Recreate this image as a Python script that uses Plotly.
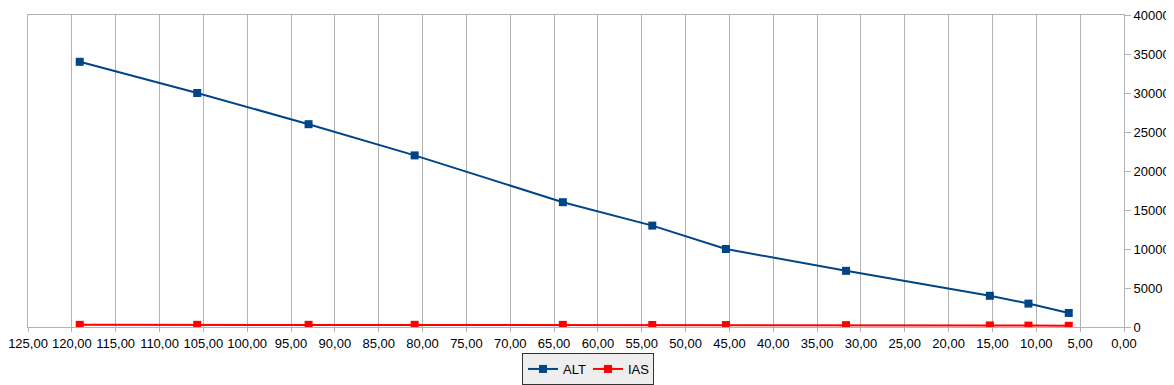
import plotly.graph_objects as go

# Data
dist = [119.1, 105.7, 93.0, 80.9, 64.0, 53.8, 45.4, 31.7, 15.3, 10.9, 6.3]
alt = [34000, 30000, 26000, 22000, 16000, 13000, 10000, 7200, 4000, 3000, 1800]
ias = [280, 280, 280, 280, 270, 260, 250, 240, 200, 180, 150]

x_tickvals = list(range(0, 130, 5))
x_ticktext = [f"{v},00" for v in x_tickvals]
y_tickvals = list(range(0, 45000, 5000))
y_ticktext = [str(v) for v in y_tickvals]

grid = "#b3b3b3"
font = dict(family="Liberation Sans, Arial, sans-serif", size=13, color="#000000")

fig = go.Figure()
fig.add_trace(go.Scatter(x=dist, y=alt, name="ALT", mode="lines+markers",
                         line=dict(color="#004586", width=2),
                         marker=dict(symbol="square", size=8, color="#004586")))
fig.add_trace(go.Scatter(x=dist, y=ias, name="IAS", mode="lines+markers",
                         line=dict(color="#ff0000", width=2),
                         marker=dict(symbol="square", size=8, color="#ff0000")))

# page body has an 8px default margin, so the figure is sized/offset for it
fig.update_layout(
    width=1166, height=377,
    margin=dict(l=20, r=50, t=7, b=58, autoexpand=False),
    paper_bgcolor="white", plot_bgcolor="white",
    font=font,
    showlegend=True,
    legend=dict(orientation="h",
                x=(580 - 20) / 1096, xanchor="center",
                y=(319 - 345) / 312, yanchor="top",
                bgcolor="#eeeeee", bordercolor="#333333", borderwidth=1,
                font=dict(size=13), itemwidth=30, tracegroupgap=0,
                entrywidth=20, entrywidthmode="pixels"),
    xaxis=dict(range=[125, 0], tickvals=x_tickvals, ticktext=x_ticktext,
               automargin=False, ticklabeloverflow="allow",
               showgrid=True, gridcolor=grid, gridwidth=1,
               showline=True, linecolor=grid, linewidth=1, mirror=True,
               ticks="outside", ticklen=4, tickcolor=grid, zeroline=False),
    yaxis=dict(range=[0, 40000], tickvals=y_tickvals, ticktext=y_ticktext,
               automargin=False, side="right", showgrid=False,
               ticklabeloverflow="allow",
               showline=True, linecolor=grid, linewidth=1, mirror=True,
               ticks="outside", ticklen=6, tickcolor=grid, zeroline=False),
)

fig.write_html("out.html")
